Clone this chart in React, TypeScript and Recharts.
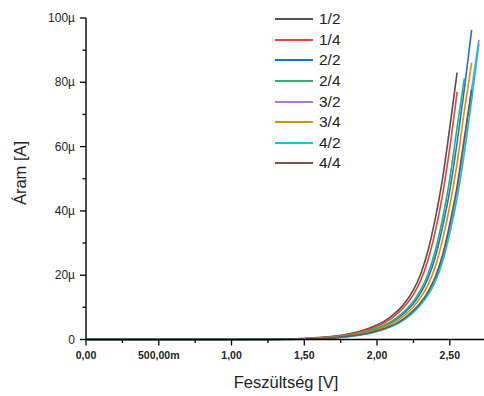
import { Label, Legend, Line, LineChart, XAxis, YAxis } from "recharts";

// voltage steps (V)
const volts = [
  0, 0.25, 0.5, 0.75, 1.0, 1.25, 1.5, 1.6, 1.7, 1.8, 1.9, 2.0, 2.05, 2.1, 2.15,
  2.2, 2.25, 2.3, 2.35, 2.4, 2.45, 2.5, 2.55, 2.6, 2.65, 2.7,
];

// current in µA, null = end of sweep
const s12 = [0, 0, 0, 0, 0.01, 0.06, 0.3, 0.6, 1.0, 1.7, 2.8, 4.5, 5.7, 7.3, 9.3, 11.9, 15.4, 20.4, 27.6, 37.6, 50, 66, 83, null, null, null];
const s14 = [0, 0, 0, 0, 0.01, 0.05, 0.26, 0.53, 0.91, 1.54, 2.56, 4.1, 5.2, 6.6, 8.5, 10.9, 14.0, 18.4, 24.7, 33.6, 45, 59.6, 77, null, null, null];
const s22 = [0, 0, 0, 0, 0.01, 0.04, 0.19, 0.38, 0.73, 1.21, 2.05, 3.36, 4.23, 5.35, 6.85, 8.8, 11.2, 14.5, 19, 25.6, 35, 46.4, 61.2, 77.9, 96.3, null];
const s24 = [0, 0, 0, 0, 0.01, 0.04, 0.21, 0.42, 0.78, 1.3, 2.2, 3.6, 4.5, 5.7, 7.3, 9.3, 11.9, 15.4, 20.4, 27.6, 37.6, 50, 66, 81.2, null, null];
const s32 = [0, 0, 0, 0, 0.01, 0.03, 0.13, 0.27, 0.55, 0.93, 1.58, 2.62, 3.36, 4.23, 5.35, 6.85, 8.8, 11.2, 14.5, 19, 25.6, 35, 46.4, 61.2, 77.9, 93.2];
const s34 = [0, 0, 0, 0, 0.01, 0.03, 0.16, 0.34, 0.65, 1.09, 1.85, 3.04, 3.87, 4.89, 6.2, 7.95, 10.2, 13.1, 17, 22.6, 31, 41.6, 54.8, 71.1, 86.1, null];
const s42 = [0, 0, 0, 0, 0.01, 0.03, 0.12, 0.25, 0.51, 0.89, 1.5, 2.5, 3.2, 4.05, 5.1, 6.55, 8.45, 10.8, 13.8, 18, 24.2, 33, 44, 58, 74.5, 92.1];
const s44 = [0, 0, 0, 0, 0.01, 0.03, 0.13, 0.28, 0.56, 0.96, 1.62, 2.68, 3.44, 4.32, 5.5, 7.05, 9.05, 11.5, 14.8, 19.4, 26.2, 36, 47.6, 62.8, 77.8, null];

const seriesNames = ["1/2", "1/4", "2/2", "2/4", "3/2", "3/4", "4/2", "4/4"];
const seriesValues = [s12, s14, s22, s24, s32, s34, s42, s44];
const seriesColors = ["#515151", "#F14040", "#1A6FDF", "#37AD6B", "#B177DE", "#CC9900", "#00CBCC", "#7D4E4E"];

const xTicks = [0, 0.25, 0.5, 0.75, 1.0, 1.25, 1.5, 1.75, 2.0, 2.25, 2.5];
const xMajorLabels: Record<string, string> = {
  "0": "0,00",
  "0.5": "500,00m",
  "1": "1,00",
  "1.5": "1,50",
  "2": "2,00",
  "2.5": "2,50",
};
const yTicks = [0, 10, 20, 30, 40, 50, 60, 70, 80, 90, 100];

const data = volts.map((v, i) => {
  const row: Record<string, number | null> = { v };
  seriesNames.forEach((n, k) => {
    row[n] = seriesValues[k][i];
  });
  return row;
});

const FONT = "Arial, 'Liberation Sans', sans-serif";

function XTick(props: any) {
  const { x, y, payload } = props;
  const label = xMajorLabels[String(payload.value)];
  return (
    <g>
      <line x1={x} x2={x} y1={y} y2={y + (label ? 6 : 3.5)} stroke="#000" strokeWidth={1.3} />
      {label && (
        <text x={x} y={y + 19} textAnchor="middle" fontSize={10.5} fontWeight="bold" fill="#222" fontFamily={FONT}>
          {label}
        </text>
      )}
    </g>
  );
}

function YTick(props: any) {
  const { x, y, payload } = props;
  const major = payload.value % 20 === 0;
  return (
    <g>
      <line x1={x - (major ? 6 : 3.5)} x2={x} y1={y} y2={y} stroke="#000" strokeWidth={1.3} />
      {major && (
        <text x={x - 11} y={y + 4} textAnchor="end" fontSize={12} fill="#222" fontFamily={FONT}>
          {payload.value === 0 ? "0" : `${payload.value}µ`}
        </text>
      )}
    </g>
  );
}

function LegendBox({ payload }: any) {
  return (
    <div style={{ fontFamily: FONT }}>
      {(payload || []).map((p: any) => (
        <div key={p.value} style={{ display: "flex", alignItems: "center", height: 20.57 }}>
          <div style={{ width: 38, height: 2, background: p.color }} />
          <span style={{ marginLeft: 6, fontSize: 15.5, color: "#222" }}>{p.value}</span>
        </div>
      ))}
    </div>
  );
}

const axisLine = { stroke: "#000", strokeWidth: 1.4 };

export default function App() {
  return (
    <div style={{ position: "absolute", left: 0, top: 0, background: "#fff" }}>
      <LineChart width={484} height={396} data={data} margin={{ top: 18, right: 0, bottom: 0, left: 0 }}>
        <XAxis
          dataKey="v"
          type="number"
          domain={[0, 2.735]}
          ticks={xTicks}
          allowDataOverflow
          height={56.5}
          tickSize={0}
          tickMargin={0}
          tick={<XTick />}
          interval={0}
          axisLine={axisLine}
        >
          <Label
            content={() => (
              <text x={286} y={388} textAnchor="middle" fontSize={16.5} fill="#222" fontFamily={FONT}>
                Feszültség [V]
              </text>
            )}
          />
        </XAxis>
        <YAxis
          type="number"
          domain={[0, 100]}
          ticks={yTicks}
          width={86}
          tickSize={0}
          tickMargin={0}
          tick={<YTick />}
          interval={0}
          axisLine={axisLine}
        >
          <Label
            content={() => (
              <text
                x={20}
                y={173}
                transform="rotate(-90 20 173)"
                textAnchor="middle"
                dominantBaseline="central"
                fontSize={16.5}
                fill="#222"
                fontFamily={FONT}
              >
                Áram [A]
              </text>
            )}
          />
        </YAxis>
        <Legend
          layout="horizontal"
          verticalAlign="middle"
          align="center"
          wrapperStyle={{ top: 9, left: 275, width: 80, height: "auto" }}
          content={<LegendBox />}
        />
        {seriesNames.map((n, k) => (
          <Line
            key={n}
            dataKey={n}
            name={n}
            stroke={seriesColors[k]}
            strokeWidth={1.6}
            dot={false}
            type="monotone"
            isAnimationActive={false}
          />
        ))}
      </LineChart>
    </div>
  );
}
